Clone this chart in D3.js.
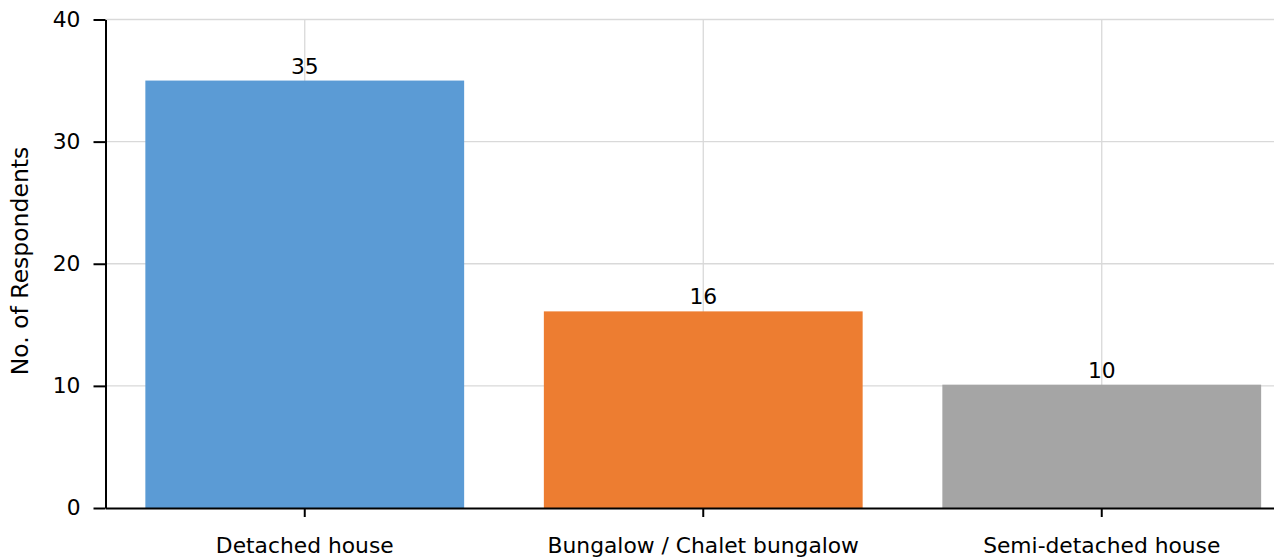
<!DOCTYPE html>
<html>
<head>
<meta charset="utf-8">
<script src="https://cdn.jsdelivr.net/npm/d3@7"></script>
<style>
  html, body { margin: 0; padding: 0; background: #fff; }
  svg { display: block; }
  text { font-family: "DejaVu Sans", Verdana, sans-serif; fill: #000; }
</style>
</head>
<body>
<svg id="chart" width="1274" height="560"></svg>
<script>
const categories = ["Detached house", "Bungalow / Chalet bungalow", "Semi-detached house"];
const values = [35, 16.1, 10.1];
const valueLabels = ["35", "16", "10"];
const colors = ["#5b9bd5", "#ed7d31", "#a5a5a5"];
const yTicks = [0, 10, 20, 30, 40];
const yTitle = "No. of Respondents";

const W = 1274, H = 560;
const mLeft = 105.5, mTop = 19.5, mBottom = 508, mRight = 1301;
const fs = 21.8;
const titleFs = 23.5;

const svg = d3.select("#chart");

const x = d3.scaleBand().domain(categories).range([mLeft, mRight]).paddingInner(0.2).paddingOuter(0.1);
const y = d3.scaleLinear().domain([0, 40]).range([mBottom, mTop]);

// grid
const grid = svg.append("g");
grid.selectAll("line.h").data(yTicks.filter(d => d > 0)).join("line")
  .attr("class", "h")
  .attr("x1", mLeft).attr("x2", W).attr("y1", d => y(d)).attr("y2", d => y(d))
  .attr("stroke", "#d9d9d9").attr("stroke-width", 1.3);
grid.selectAll("line.v").data(categories).join("line")
  .attr("class", "v")
  .attr("x1", d => x(d) + x.bandwidth() / 2).attr("x2", d => x(d) + x.bandwidth() / 2)
  .attr("y1", mTop).attr("y2", mBottom)
  .attr("stroke", "#d9d9d9").attr("stroke-width", 1.3);

// bars
svg.append("g").selectAll("rect").data(categories).join("rect")
  .attr("x", d => x(d)).attr("width", x.bandwidth())
  .attr("y", (d, i) => y(values[i])).attr("height", (d, i) => y(0) - y(values[i]))
  .attr("fill", (d, i) => colors[i]);

// value labels
svg.append("g").selectAll("text").data(categories).join("text")
  .attr("x", d => x(d) + x.bandwidth() / 2)
  .attr("y", (d, i) => y(values[i]) - 7)
  .attr("text-anchor", "middle")
  .style("font-size", fs + "px")
  .text((d, i) => valueLabels[i]);

// y axis
const yAxis = svg.append("g").attr("transform", `translate(${mLeft},0)`)
  .call(d3.axisLeft(y).tickValues(yTicks).tickSize(12).tickPadding(13).tickSizeOuter(0));
yAxis.select(".domain").attr("stroke", "#000").attr("stroke-width", 2);
yAxis.selectAll(".tick line").attr("stroke", "#000").attr("stroke-width", 2);
yAxis.attr("font-family", null).attr("font-size", null);
yAxis.selectAll(".tick text").style("font-size", fs + "px");

// x axis
const xAxis = svg.append("g").attr("transform", `translate(0,${mBottom})`)
  .call(d3.axisBottom(x).tickSize(9).tickPadding(21).tickSizeOuter(0));
xAxis.select(".domain").attr("stroke", "#000").attr("stroke-width", 2);
xAxis.selectAll(".tick line").attr("stroke", "#000").attr("stroke-width", 2);
xAxis.attr("font-family", null).attr("font-size", null);
xAxis.selectAll(".tick text").style("font-size", fs + "px");

// y title
svg.append("text")
  .attr("transform", `translate(28,261) rotate(-90)`)
  .attr("text-anchor", "middle")
  .style("font-size", titleFs + "px")
  .text(yTitle);
</script>
</body>
</html>
